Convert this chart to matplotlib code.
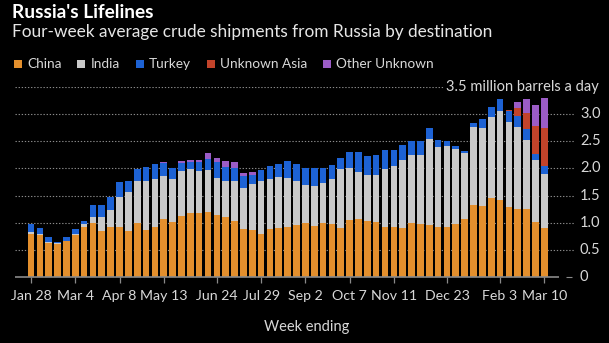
import matplotlib
matplotlib.use('Agg')
import matplotlib.pyplot as plt
from matplotlib.patches import Rectangle
from matplotlib.transforms import blended_transform_factory

# ---------------- data (million barrels a day, four-week average) ----------------
china = [0.80, 0.77, 0.63, 0.60, 0.66, 0.77, 0.92, 0.99, 0.84, 0.93,
         0.92, 0.84, 0.99, 0.86, 0.92, 1.07, 1.02, 1.13, 1.18, 1.17,
         1.19, 1.14, 1.10, 1.03, 0.88, 0.86, 0.79, 0.88, 0.90, 0.93,
         0.96, 1.00, 0.94, 0.99, 0.98, 0.91, 1.05, 1.06, 1.04, 1.02,
         0.92, 0.92, 0.90, 1.00, 0.98, 0.96, 0.93, 0.93, 0.98, 1.06,
         1.32, 1.31, 1.45, 1.42, 1.29, 1.26, 1.26, 1.01, 0.90]
india = [0.03, 0.02, 0.02, 0.03, 0.01, 0.03, 0.05, 0.12, 0.26, 0.30,
         0.55, 0.72, 0.77, 0.90, 0.89, 0.79, 0.78, 0.83, 0.81, 0.79,
         0.78, 0.69, 0.66, 0.73, 0.76, 0.85, 0.97, 0.93, 0.94, 0.90,
         0.80, 0.70, 0.73, 0.74, 0.83, 1.08, 0.95, 0.88, 0.83, 0.86,
         1.07, 1.12, 1.26, 1.25, 1.27, 1.59, 1.46, 1.49, 1.38, 1.22,
         1.44, 1.44, 1.49, 1.63, 1.56, 1.50, 1.27, 1.15, 1.00]
turkey = [0.14, 0.11, 0.09, 0.02, 0.06, 0.08, 0.07, 0.21, 0.22, 0.25,
          0.28, 0.21, 0.23, 0.26, 0.27, 0.24, 0.21, 0.14, 0.13, 0.16,
          0.21, 0.28, 0.27, 0.25, 0.22, 0.17, 0.22, 0.23, 0.24, 0.31,
          0.32, 0.30, 0.34, 0.27, 0.25, 0.21, 0.31, 0.37, 0.35, 0.36,
          0.35, 0.30, 0.28, 0.25, 0.25, 0.19, 0.14, 0.08, 0.05, 0.05,
          0.08, 0.16, 0.20, 0.22, 0.21, 0.21, 0.20, 0.10, 0.14]
unknown_asia = [0.0] * 54 + [0.02, 0.14, 0.29, 0.53, 0.70]
other_unknown = [0.0] * 15 + [0.02, 0.0, 0.03, 0.03, 0.04,
                              0.10, 0.08, 0.11, 0.11, 0.06, 0.06] + [0.0] * 28 + \
                [0.0, 0.11, 0.25, 0.38, 0.55]

series_names = ["China", "India", "Turkey", "Unknown Asia", "Other Unknown"]
series_values = [china, india, turkey, unknown_asia, other_unknown]
series_colors = ["#e38f2d", "#c9c9c9", "#1d62d4", "#c2432a", "#9b5cc6"]

tick_idx = [0, 5, 10, 15, 21, 26, 31, 36, 41, 47, 53, 58]
tick_labels = ["Jan 28", "Mar 4", "Apr 8", "May 13", "Jun 24", "Jul 29",
               "Sep 2", "Oct 7", "Nov 11", "Dec 23", "Feb 3", "Mar 10"]
y_ticks = [0, 0.5, 1.0, 1.5, 2.0, 2.5, 3.0, 3.5]
y_labels = ["0", "0.5", "1.0", "1.5", "2.0", "2.5", "3.0"]

# ---------------- figure ----------------
FONT = "Lato"
W, H = 609, 343
fig = plt.figure(figsize=(W / 100, H / 100), dpi=100, facecolor="black")


def fx(px):
    return px / W


def fy(py):
    return 1 - py / H


# pixel geometry
LEFT, RIGHT, BOT, TOP = 15, 575, 277, 87
X0, STEP = 31, 8.85
ax = fig.add_axes([fx(LEFT), fy(BOT), (RIGHT - LEFT) / W, (BOT - TOP) / H])
ax.set_facecolor("black")
n = len(china)
xs = list(range(n))
ax.set_xlim((LEFT - X0) / STEP, (RIGHT - X0) / STEP)
ax.set_ylim(0, 3.5)

bottom = [0.0] * n
for vals, col in zip(series_values, series_colors):
    ax.bar(xs, vals, bottom=bottom, width=0.75, color=col, linewidth=0, zorder=3)
    bottom = [b + v for b, v in zip(bottom, vals)]

# gridlines
for y in y_ticks[1:]:
    ax.axhline(y, color="#8a8a8a", lw=0.8, dashes=(1.2, 1.6), zorder=1)
ax.plot([(LEFT - X0) / STEP, (559 - X0) / STEP], [0, 0], color="#8a8a8a", lw=1.2,
        zorder=4, clip_on=False, solid_capstyle="butt")
ax.plot([(566 - X0) / STEP, (572 - X0) / STEP], [0, 0], color="#8a8a8a", lw=0.8,
        zorder=4, clip_on=False, solid_capstyle="butt")

for s in ax.spines.values():
    s.set_visible(False)
ax.set_yticks([])
ax.set_xticks(tick_idx)
ax.set_xticklabels(tick_labels, fontfamily=FONT, fontsize=10.2, color="#d8d8d8")
ax.tick_params(axis="x", length=4, width=0.9, color="#8a8a8a", pad=5)

tr = blended_transform_factory(ax.transAxes, ax.transData)
ax_w = RIGHT - LEFT
for y, lab in zip(y_ticks, y_labels):
    ax.text((580 - LEFT) / ax_w, y, lab, transform=tr, ha="left", va="center",
            fontfamily=FONT, fontsize=10.5, color="#d8d8d8")
ax.text((599 - LEFT) / ax_w, 3.5, "3.5 million barrels a day", transform=tr,
        ha="right", va="center", fontfamily=FONT, fontsize=10.5, color="#d8d8d8",
        bbox=dict(facecolor="black", edgecolor="none", pad=1.5))

fig.text(fx(307), fy(327), "Week ending", ha="center", va="center",
         fontfamily=FONT, fontsize=10.5, color="#d8d8d8")

# ---------------- titles (fitted to widths) ----------------
fig.canvas.draw()
R = fig.canvas.get_renderer()


def fit(t, target):
    w = t.get_window_extent(R).width
    t.set_fontsize(t.get_fontsize() * target / w)


title = fig.text(fx(12), fy(17.5), "Russia's Lifelines", ha="left", va="baseline",
                 fontfamily=FONT, fontweight="bold", fontsize=13, color="white")
fit(title, 142)
sub = fig.text(fx(12), fy(37.5),
               "Four-week average crude shipments from Russia by destination",
               ha="left", va="baseline", fontfamily=FONT, fontsize=13, color="#e6e6e6")
fit(sub, 479)

# ---------------- legend (fitted to reference span) ----------------
SQ_GAP, COL_GAP, L_START, L_END = 13, 16, 14, 433
texts = [fig.text(0, 0, nm, fontfamily=FONT, fontsize=10, color="#d8d8d8")
         for nm in series_names]
widths = [t.get_window_extent(R).width for t in texts]
scale = (L_END - L_START - len(texts) * SQ_GAP - (len(texts) - 1) * COL_GAP) / sum(widths)
x = L_START
for t, w, col in zip(texts, widths, series_colors):
    fig.patches.append(Rectangle((fx(x), fy(68)), 8 / W, 8 / H, transform=fig.transFigure,
                                 facecolor=col, edgecolor="none"))
    t.set_fontsize(10 * scale)
    t.set_position((fx(x + SQ_GAP), fy(68)))
    t.set_va("baseline")
    x = x + SQ_GAP + w * scale + COL_GAP

fig.savefig("out.png", dpi=100, facecolor="black")
